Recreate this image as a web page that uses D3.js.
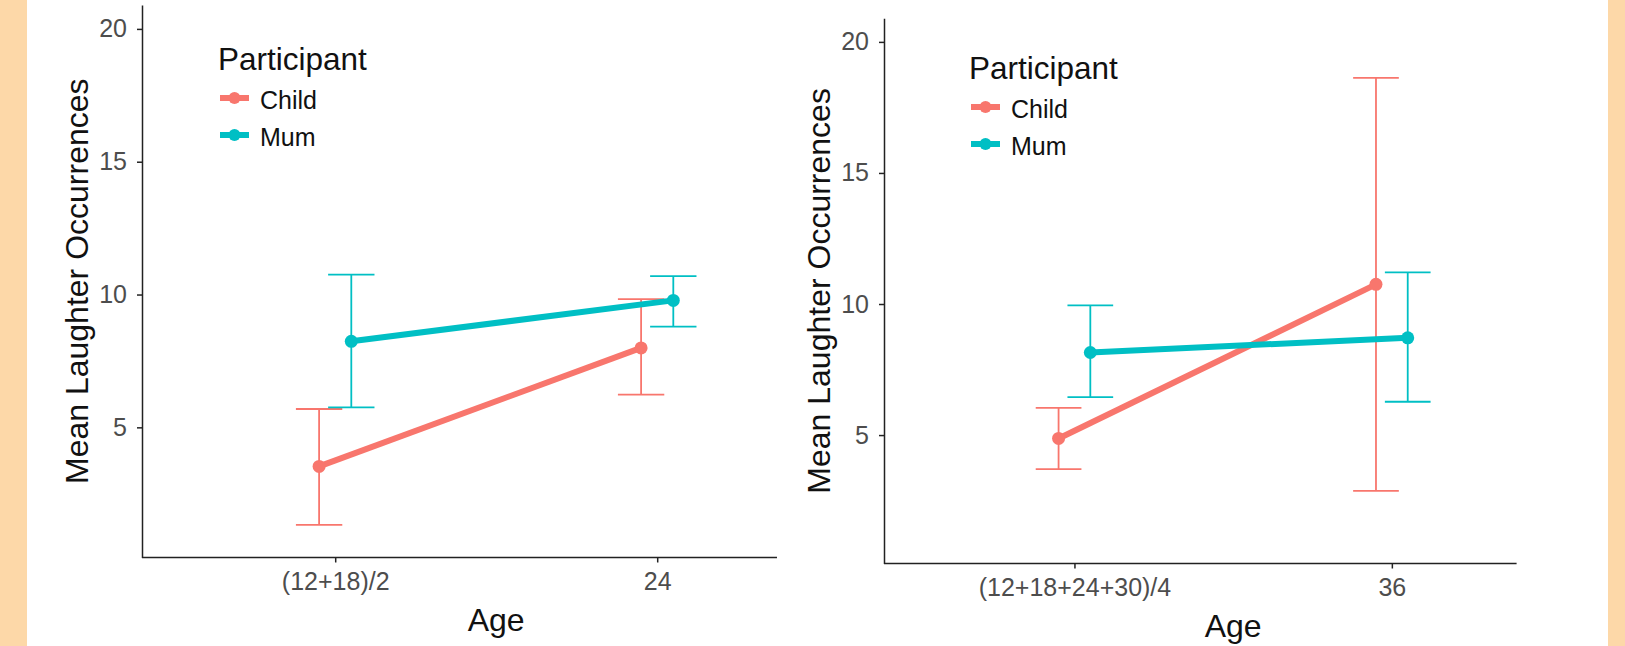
<!DOCTYPE html>
<html lang="en">
<head>
<meta charset="UTF-8">
<title>Mean Laughter Occurrences by Age</title>
<style>
  body { margin: 0; background: #fdd8a8; }
  svg { display: block; font-family: "Liberation Sans", Arial, sans-serif; }
  .tick text { fill: #4d4d4d; font-size: 25px; }
  .tick line, .domain { stroke: #222; stroke-width: 1.5px; }
  .axis-title { font-size: 32px; fill: #111; }
  .legend-title { font-size: 31.5px; fill: #111; }
  .legend-label { font-size: 25px; fill: #111; }
</style>
</head>
<body>
<svg width="1625" height="646"></svg>
<script src="https://d3js.org/d3.v7.min.js"></script>
<script>
// left plot: early ages averaged vs 24 months
const ages1 = ["(12+18)/2", "24"];
const child1 = [3.53, 7.99];
const child1Low = [1.33, 6.23];
const child1High = [5.69, 9.83];
const mum1 = [8.24, 9.78];
const mum1Low = [5.75, 8.79];
const mum1High = [10.75, 10.69];

// right plot: early ages averaged vs 36 months
const ages2 = ["(12+18+24+30)/4", "36"];
const child2 = [4.87, 10.75];
const child2Low = [3.70, 2.87];
const child2High = [6.04, 18.63];
const mum2 = [8.15, 8.71];
const mum2Low = [6.45, 6.27];
const mum2High = [9.95, 11.21];

const yTicks = [5, 10, 15, 20];
const participants = ["Child", "Mum"];
const colors = ["#F8766D", "#00BFC4"];

const svg = d3.select("svg");

// white card behind both plots
svg.append("rect")
    .attr("x", 27).attr("y", 0)
    .attr("width", 1581).attr("height", 646)
    .attr("fill", "#fff");

const panels = [
    {
        ages: ages1,
        series: [
            { mean: child1, low: child1Low, high: child1High },
            { mean: mum1, low: mum1Low, high: mum1High }
        ],
        left: 142, width: 708.4, top: 5, bottom: 557.5, axisEnd: 1.372,
        legendX: 218, legendY: 70
    },
    {
        ages: ages2,
        series: [
            { mean: child2, low: child2Low, high: child2High },
            { mean: mum2, low: mum2Low, high: mum2High }
        ],
        left: 884, width: 698.3, top: 18.3, bottom: 563.5, axisEnd: 1.393,
        legendX: 969, legendY: 79
    }
];

panels.forEach(drawPanel);

function drawPanel(p) {
    const x = d3.scaleLinear().domain([-0.6, 1.6]).range([p.left, p.left + p.width]);
    const y = d3.scaleLinear().domain([0.1, 20.9]).range([p.bottom, p.top]);
    const dodge = [-0.05, 0.05];
    const capHalf = 0.072;

    const g = svg.append("g");

    // axes
    g.append("g")
        .attr("transform", `translate(${p.left},0)`)
        .call(d3.axisLeft(y).tickValues(yTicks).tickSize(5).tickPadding(10).tickSizeOuter(0));

    const xAxis = g.append("g")
        .attr("transform", `translate(0,${p.bottom})`)
        .call(d3.axisBottom(x).tickValues([0, 1]).tickFormat(i => p.ages[i])
            .tickSize(5).tickPadding(10).tickSizeOuter(0));
    // the original figure is cut off on the right
    xAxis.select(".domain").attr("d", `M${x(-0.6)},0H${x(p.axisEnd)}`);

    g.append("text")
        .attr("class", "axis-title")
        .attr("text-anchor", "middle")
        .attr("x", (x(-0.6) + x(1.6)) / 2)
        .attr("y", p.bottom + 73)
        .text("Age");

    g.append("text")
        .attr("class", "axis-title")
        .attr("text-anchor", "middle")
        .attr("transform", `translate(${p.left - 54},${(p.top + p.bottom) / 2}) rotate(-90)`)
        .text("Mean Laughter Occurrences");

    // error bars
    p.series.forEach((s, k) => {
        const eb = g.append("g")
            .attr("stroke", colors[k])
            .attr("stroke-width", 1.8)
            .attr("fill", "none");
        s.mean.forEach((m, i) => {
            const cx = i + dodge[k];
            eb.append("line")
                .attr("x1", x(cx)).attr("x2", x(cx))
                .attr("y1", y(s.low[i])).attr("y2", y(s.high[i]));
            [s.low[i], s.high[i]].forEach(v => {
                eb.append("line")
                    .attr("x1", x(cx - capHalf)).attr("x2", x(cx + capHalf))
                    .attr("y1", y(v)).attr("y2", y(v));
            });
        });
    });

    // lines and points
    const line = d3.line()
        .x((d, i) => x(i + d.off))
        .y(d => y(d.v));

    p.series.forEach((s, k) => {
        const pts = s.mean.map(v => ({ v: v, off: dodge[k] }));
        g.append("path")
            .datum(pts)
            .attr("fill", "none")
            .attr("stroke", colors[k])
            .attr("stroke-width", 6)
            .attr("d", line);
        g.selectAll(null)
            .data(pts)
            .join("circle")
            .attr("cx", (d, i) => x(i + d.off))
            .attr("cy", d => y(d.v))
            .attr("r", 6.5)
            .attr("fill", colors[k]);
    });

    // legend
    const lg = g.append("g").attr("transform", `translate(${p.legendX},${p.legendY})`);
    lg.append("text")
        .attr("class", "legend-title")
        .attr("x", 0).attr("y", 0)
        .text("Participant");
    participants.forEach((name, k) => {
        const cy = 28 + k * 37;
        lg.append("line")
            .attr("x1", 2).attr("x2", 31)
            .attr("y1", cy).attr("y2", cy)
            .attr("stroke", colors[k])
            .attr("stroke-width", 6);
        lg.append("circle")
            .attr("cx", 16.5).attr("cy", cy)
            .attr("r", 6)
            .attr("fill", colors[k]);
        lg.append("text")
            .attr("class", "legend-label")
            .attr("x", 42).attr("y", cy + 11)
            .text(name);
    });
}
</script>
</body>
</html>
